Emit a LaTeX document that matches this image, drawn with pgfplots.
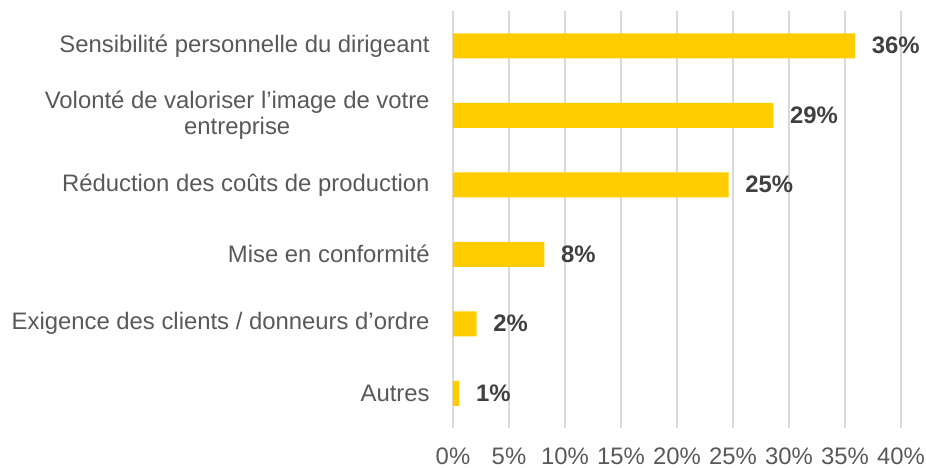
\documentclass[border=0pt]{standalone}
\usepackage{pgfplots}
\pgfplotsset{compat=1.18}
\usepackage{fontspec}
\setmainfont{Liberation Sans}
\definecolor{baryellow}{HTML}{FFCC00}
\definecolor{gridgray}{HTML}{D9D9D9}
\definecolor{txtgray}{HTML}{595959}
\definecolor{valgray}{HTML}{404040}
\begin{document}
\fontsize{17.9}{19}\selectfont
\begin{tikzpicture}
\begin{axis}[
  name=ax,
  scale only axis,
  width=336pt, height=312.75pt,
  xmin=0, xmax=40,
  ymin=-0.5, ymax=5.5,
  xbar, bar width=18.75pt,
  xtick={0,5,...,40},
  xticklabels={0\%,5\%,10\%,15\%,20\%,25\%,30\%,35\%,40\%},
  ytick={0,1,2,3,4,5},
  yticklabels={Autres,Exigence des clients / donneurs d’ordre,Mise en conformité,Réduction des coûts de production,{Volonté de valoriser l’image de votre\\entreprise},Sensibilité personnelle du dirigeant},
  xmajorgrids, ymajorgrids=false,
  grid style={gridgray, line width=1.3pt},
  axis line style={draw=none},
  major tick length=0pt,
  tick style={draw=none},
  xticklabel style={text=txtgray, font=\fontsize{17.9}{19}\selectfont, inner sep=0.5pt, yshift=-14pt},
  yticklabel style={text=txtgray, font=\fontsize{17.9}{19}\selectfont, align=center, xshift=-11.4pt},
  point meta=explicit symbolic,
  nodes near coords,
  nodes near coords style={text=valgray, font=\fontsize{17.9}{19}\selectfont\bfseries, anchor=west, xshift=6.5pt},
  clip=false,
]
\addplot[fill=baryellow, draw=none] coordinates {
  (35.9,5) [36\%]
  (28.6,4) [29\%]
  (24.6,3) [25\%]
  (8.15,2) [8\%]
  (2.1,1) [2\%]
  (0.55,0) [1\%]
};
\end{axis}
\pgfresetboundingbox
\path[use as bounding box] (ax.south west) ++(-339.75pt,-30pt) rectangle ++(694.5pt,351pt);
\end{tikzpicture}
\end{document}
